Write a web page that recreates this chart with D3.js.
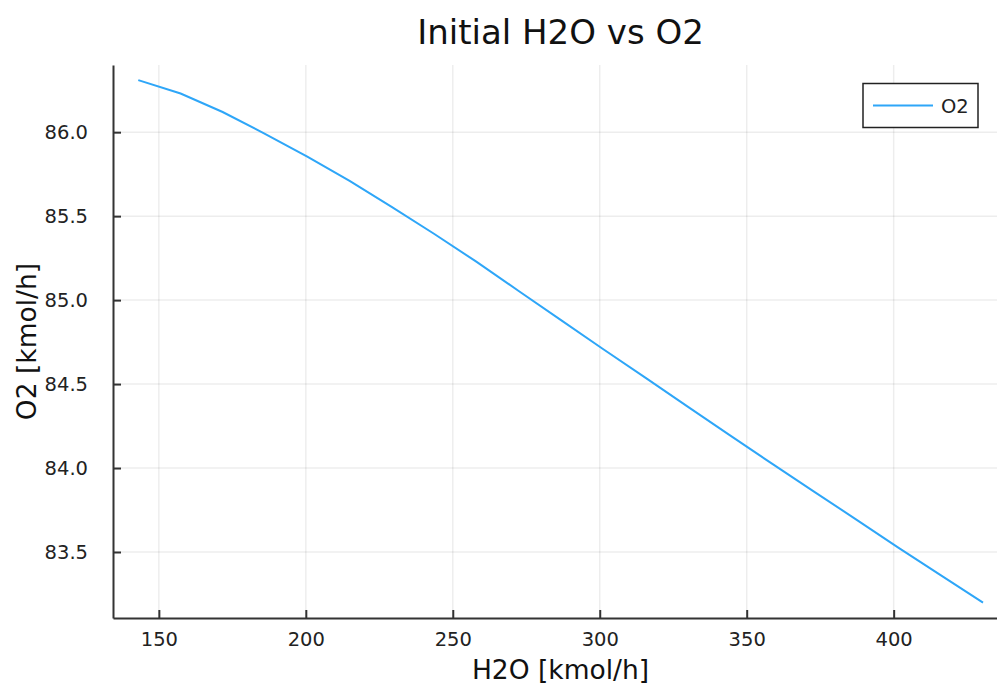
<!DOCTYPE html>
<html>
<head>
<meta charset="utf-8">
<script src="https://cdn.jsdelivr.net/npm/d3@7"></script>
<style>
body { margin: 0; background: #fff; }
text { font-family: "DejaVu Sans", sans-serif; }
</style>
</head>
<body>
<div id="chart"></div>
<script>
var w = 997;
var h = 687;

// H2O feed [kmol/h] vs O2 [kmol/h]
var h2o = [143.0, 157.4, 171.7, 186.1, 200.5, 214.9, 229.2, 243.6, 258.0, 272.3, 286.7,
	301.1, 315.5, 329.8, 344.2, 358.6, 372.9, 387.3, 401.7, 416.1, 430.4];
var o2 = [86.31, 86.23, 86.12, 85.99, 85.855, 85.71, 85.555, 85.395, 85.229, 85.056, 84.882,
	84.709, 84.538, 84.367, 84.196, 84.026, 83.86, 83.693, 83.525, 83.361, 83.199];
var xTicks = [150, 200, 250, 300, 350, 400];
var yTicks = [83.5, 84.0, 84.5, 85.0, 85.5, 86.0];

var pLeft = 113, pRight = 1008, pTop = 65, pBottom = 618;

var svg = d3.select("#chart")
	.append("svg")
	.attr("width", w)
	.attr("height", h)
	.style("background", "#ffffff");

var xscale = d3.scaleLinear()
	.domain([134.4, 438.9])
	.range([pLeft, pRight]);

var yscale = d3.scaleLinear()
	.domain([83.107, 86.40])
	.range([pBottom, pTop]);

// grid
svg.append("g").selectAll("line")
	.data(xTicks)
	.enter().append("line")
		.attr("x1", function(d){return xscale(d)})
		.attr("x2", function(d){return xscale(d)})
		.attr("y1", pTop)
		.attr("y2", pBottom)
		.style("stroke", "#000")
		.style("stroke-opacity", 0.07)
		.style("stroke-width", 1.5);

svg.append("g").selectAll("line")
	.data(yTicks)
	.enter().append("line")
		.attr("x1", pLeft)
		.attr("x2", pRight)
		.attr("y1", function(d){return yscale(d)})
		.attr("y2", function(d){return yscale(d)})
		.style("stroke", "#000")
		.style("stroke-opacity", 0.07)
		.style("stroke-width", 1.5);

// axes, ticks point inward
var xAxis = svg.append("g")
	.attr("transform", "translate(0," + pBottom + ")")
	.call(d3.axisBottom(xscale).tickValues(xTicks).tickFormat(d3.format("d"))
		.tickSize(-8).tickSizeOuter(0).tickPadding(14));

var yAxis = svg.append("g")
	.attr("transform", "translate(" + pLeft + ",0)")
	.call(d3.axisLeft(yscale).tickValues(yTicks).tickFormat(d3.format(".1f"))
		.tickSize(-8).tickSizeOuter(0).tickPadding(25));

[xAxis, yAxis].forEach(function(a){
	a.select(".domain").style("stroke", "#333").style("stroke-width", 2);
	a.selectAll(".tick line").style("stroke", "#333").style("stroke-width", 2);
	a.selectAll(".tick text")
		.style("font-family", "DejaVu Sans")
		.style("font-size", "19.5px")
		.style("fill", "#222");
});

// the series
var line = d3.line()
	.x(function(d){return xscale(d[0])})
	.y(function(d){return yscale(d[1])});

svg.append("path")
	.datum(h2o.map(function(d,i){return [d, o2[i]]}))
	.attr("d", line)
	.style("fill", "none")
	.style("stroke", "#2ea6f8")
	.style("stroke-width", 2);

// title and labels
svg.append("text")
	.attr("x", 560.5)
	.attr("y", 44)
	.attr("text-anchor", "middle")
	.style("font-size", "34px")
	.style("fill", "#111")
	.text("Initial H2O vs O2");

svg.append("text")
	.attr("x", 560.5)
	.attr("y", 679)
	.attr("text-anchor", "middle")
	.style("font-size", "26.5px")
	.style("fill", "#111")
	.text("H2O [kmol/h]");

svg.append("text")
	.attr("transform", "translate(36," + (pTop + pBottom) / 2 + ") rotate(-90)")
	.attr("text-anchor", "middle")
	.style("font-size", "26.5px")
	.style("fill", "#111")
	.text("O2 [kmol/h]");

// legend
var legend = svg.append("g");
legend.append("rect")
	.attr("x", 863)
	.attr("y", 83.5)
	.attr("width", 115)
	.attr("height", 44)
	.style("fill", "#fff")
	.style("stroke", "#222")
	.style("stroke-width", 1.5);
legend.append("line")
	.attr("x1", 873)
	.attr("x2", 933)
	.attr("y1", 105.5)
	.attr("y2", 105.5)
	.style("stroke", "#2ea6f8")
	.style("stroke-width", 2);
legend.append("text")
	.attr("x", 941)
	.attr("y", 112.5)
	.style("font-size", "19.5px")
	.style("fill", "#222")
	.text("O2");
</script>
</body>
</html>
